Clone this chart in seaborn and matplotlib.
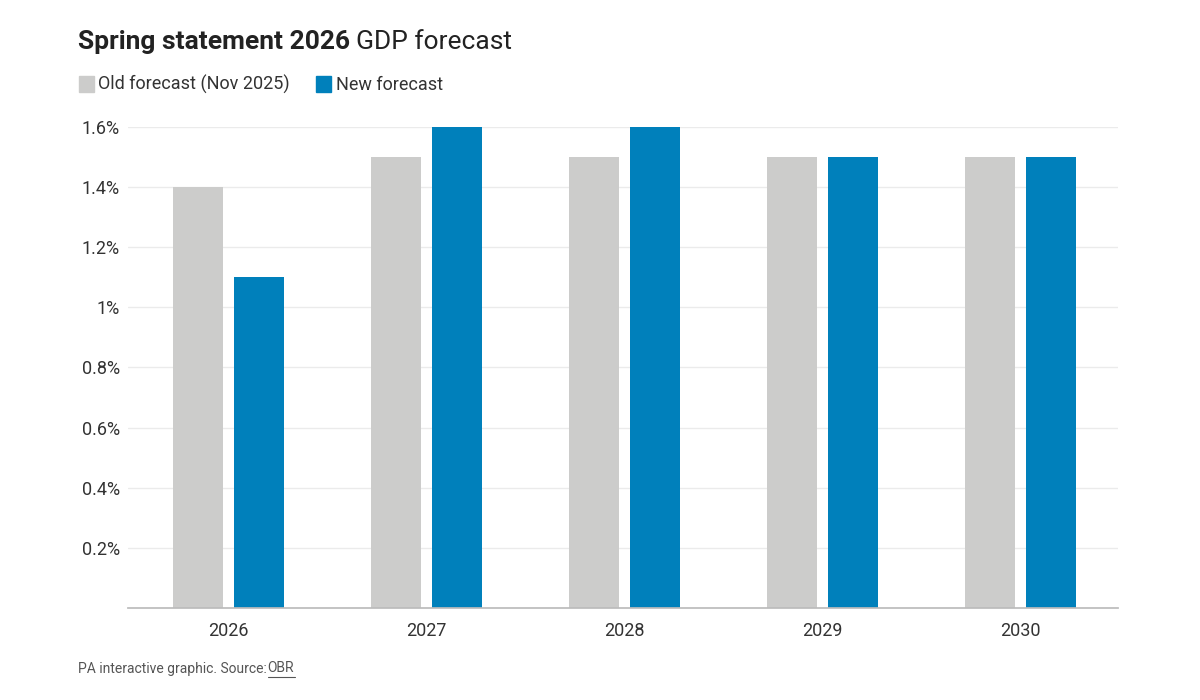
import matplotlib
matplotlib.use("Agg")
import matplotlib.pyplot as plt
import seaborn as sns
import pandas as pd
from matplotlib.ticker import FuncFormatter

years = ["2026", "2027", "2028", "2029", "2030"]
old_forecast = [1.4, 1.5, 1.5, 1.5, 1.5]
new_forecast = [1.1, 1.6, 1.6, 1.5, 1.5]
series_names = ["Old forecast (Nov 2025)", "New forecast"]
colors = ["#cccccb", "#0080bb"]

df = pd.DataFrame({
    "year": years * 2,
    "value": old_forecast + new_forecast,
    "series": [series_names[0]] * 5 + [series_names[1]] * 5,
})

sns.set_theme(style="white")
plt.rcParams['font.family'] = ['Roboto', 'DejaVu Sans']

fig = plt.figure(figsize=(12, 7), dpi=100)
ax = fig.add_axes([0.107, 0.131, 0.825, 0.688])
sns.barplot(data=df, x="year", y="value", hue="series", palette=colors,
            width=0.62, gap=0.19, ax=ax, legend=False, saturation=1, linewidth=0)
ax.set_xlim(-0.505, 4.495)
ax.set_ylim(0, 1.6)
ax.set_yticks([0.2, 0.4, 0.6, 0.8, 1.0, 1.2, 1.4, 1.6])
ax.yaxis.set_major_formatter(FuncFormatter(lambda v, p: f"{v:g}%"))
ax.grid(axis="y", color="#ebebeb", linewidth=1)
ax.set_axisbelow(True)
for s in ["top", "right", "left"]:
    ax.spines[s].set_visible(False)
ax.spines["bottom"].set_color("#bbbbbb")
ax.tick_params(axis="both", length=0, labelsize=13, colors="#333333")
ax.tick_params(axis="x", pad=10)
ax.tick_params(axis="y", pad=6)
ax.set_xlabel("")
ax.set_ylabel("")

fig.text(0.065, 0.94, "Spring statement 2026", fontsize=19, fontweight="bold", color="#222222", va="center")
fig.text(0.297, 0.94, "GDP forecast", fontsize=19, color="#222222", va="center")

# legend
fig.patches.append(plt.Rectangle((0.066, 0.869), 0.0125, 0.022, transform=fig.transFigure, color=colors[0]))
fig.text(0.082, 0.879, series_names[0], fontsize=13, color="#333333", va="center")
fig.patches.append(plt.Rectangle((0.263, 0.869), 0.0125, 0.022, transform=fig.transFigure, color=colors[1]))
fig.text(0.280, 0.879, series_names[1], fontsize=13, color="#333333", va="center")

fig.text(0.065, 0.045, "PA interactive graphic. Source:", fontsize=10, color="#555555", va="center")
fig.text(0.223, 0.045, "OBR", fontsize=10, color="#555555", va="center")
fig.lines.append(plt.Line2D([0.223, 0.246], [0.033, 0.033], transform=fig.transFigure, color="#555555", lw=0.8))

fig.savefig("out.png", dpi=100, facecolor="white")
